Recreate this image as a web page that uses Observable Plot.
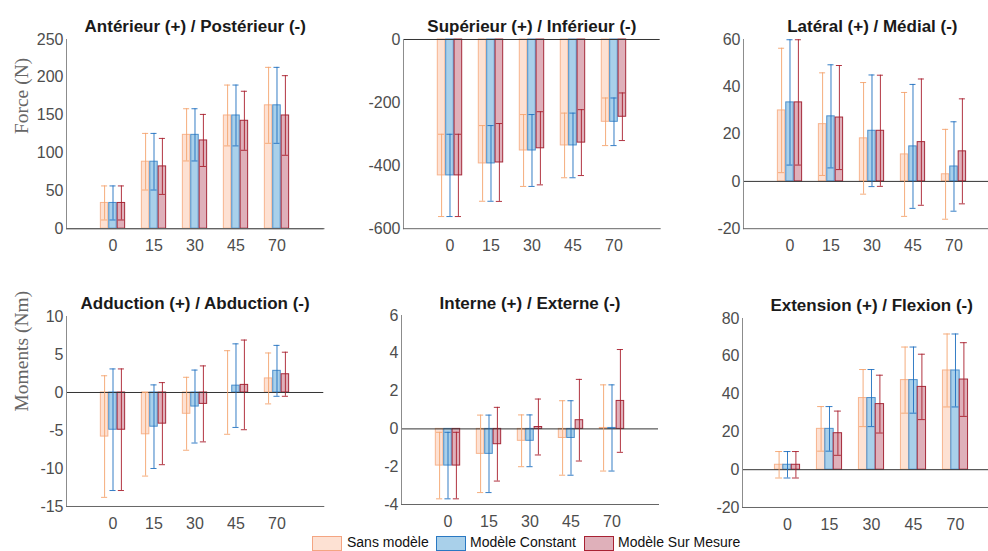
<!DOCTYPE html>
<html><head><meta charset="utf-8">
<script src="https://cdn.jsdelivr.net/npm/d3@7"></script>
<script src="https://cdn.jsdelivr.net/npm/@observablehq/plot@0.6"></script>
<style>
body{margin:0;background:#fff;overflow:hidden}
#c{position:relative;width:988px;height:551px;overflow:hidden;font-family:"Liberation Sans",Arial,sans-serif}
#c svg{position:absolute}
.sw{position:absolute;top:536px;width:30px;height:15px;box-sizing:border-box;border:1px solid}
.lt{position:absolute;top:535px;font-size:14px;line-height:14px;color:#111;white-space:nowrap}
</style>
</head><body><div id="c"></div>
<script>
const angles = ["0", "15", "30", "45", "70"];
const seriesNames = ["Sans modèle", "Modèle Constant", "Modèle Sur Mesure"];
const titles = ["Antérieur (+) / Postérieur (-)", "Supérieur (+) / Inférieur (-)", "Latéral (+) / Médial (-)",
  "Adduction (+) / Abduction (-)", "Interne (+) / Externe (-)", "Extension (+) / Flexion (-)"];
const yLabels = ["Force (N)", "Moments (Nm)"];

// Antérieur / Postérieur (N)
const ap_sans = [34, 88.5, 124, 149.6, 163];
const ap_sans_sd = [22.5, 37.4, 34.5, 40.2, 50.2];
const ap_const = [34, 88.5, 124, 149.6, 163];
const ap_const_sd = [22.5, 37.4, 34.5, 40.2, 50.2];
const ap_sur = [34, 82.3, 116.6, 142.6, 149.6];
const ap_sur_sd = [22.5, 37, 34.4, 39, 52.6];
// Supérieur / Inférieur (N)
const si_sans = [-431, -393, -352, -336, -261];
const si_sans_sd = [130.5, 120, 114, 102.5, 75.5];
const si_const = [-431, -393, -352, -336, -261];
const si_const_sd = [130.5, 120, 114, 102.5, 75.5];
const si_sur = [-431, -390, -345, -327, -245];
const si_sur_sd = [130.5, 123.5, 116, 104.5, 75.5];
// Latéral / Médial (N)
const lm_sans = [30, 24.2, 18.2, 11.4, 3];
const lm_sans_sd = [26.3, 21.7, 23.6, 26.2, 19];
const lm_const = [33.4, 27.5, 21.4, 14.8, 6.3];
const lm_const_sd = [26.5, 21.8, 23.6, 26.2, 18.9];
const lm_sur = [33.4, 27, 21.4, 16.6, 12.7];
const lm_sur_sd = [26.5, 22, 23.5, 26.7, 22.2];
// Adduction / Abduction (Nm)
const aa_sans = [-5.8, -5.5, -2.8, 0, 1.85];
const aa_sans_sd = [8, 5.5, 4.8, 5.5, 3.35];
const aa_const = [-4.9, -4.5, -1.85, 0.9, 2.85];
const aa_const_sd = [8, 5.5, 4.8, 5.5, 3.35];
const aa_sur = [-4.9, -4.1, -1.5, 1.0, 2.4];
const aa_sur_sd = [8, 5.4, 5, 5.9, 2.9];
// Interne / Externe (Nm)
const ie_sans = [-1.94, -1.32, -0.63, -0.48, 0.05];
const ie_sans_sd = [1.76, 2.05, 1.37, 1.97, 2.28];
const ie_const = [-1.94, -1.32, -0.63, -0.48, 0.05];
const ie_const_sd = [1.76, 2.05, 1.37, 1.97, 2.28];
const ie_sur = [-1.94, -0.81, 0.1, 0.46, 1.48];
const ie_sur_sd = [1.76, 1.95, 1.48, 2.16, 2.72];
// Extension / Flexion (Nm)
const ef_sans = [2.6, 21.6, 37.9, 47.4, 52.5];
const ef_sans_sd = [7, 11.8, 15.1, 17.5, 19.3];
const ef_const = [2.6, 21.6, 37.9, 47.4, 52.5];
const ef_const_sd = [7, 11.8, 15.1, 17.5, 19.3];
const ef_sur = [2.6, 19.3, 34.7, 43.8, 47.7];
const ef_sur_sd = [7, 11.7, 15.3, 17.3, 19.5];

const yDomains = [[0, 250], [-600, 0], [-20, 60], [-15, 10], [-4, 6], [-20, 80]];
const yTicks = [[0, 50, 100, 150, 200, 250], [-600, -400, -200, 0], [-20, 0, 20, 40, 60],
  [-15, -10, -5, 0, 5, 10], [-4, -2, 0, 2, 4, 6], [-20, 0, 20, 40, 60, 80]];

const seriesData = [
  [[ap_sans, ap_sans_sd], [ap_const, ap_const_sd], [ap_sur, ap_sur_sd]],
  [[si_sans, si_sans_sd], [si_const, si_const_sd], [si_sur, si_sur_sd]],
  [[lm_sans, lm_sans_sd], [lm_const, lm_const_sd], [lm_sur, lm_sur_sd]],
  [[aa_sans, aa_sans_sd], [aa_const, aa_const_sd], [aa_sur, aa_sur_sd]],
  [[ie_sans, ie_sans_sd], [ie_const, ie_const_sd], [ie_sur, ie_sur_sd]],
  [[ef_sans, ef_sans_sd], [ef_const, ef_const_sd], [ef_sur, ef_sur_sd]]
];

// layout: plot-area frames [x0, x1, y0, y1]
const frames = [
  [65.5, 323, 38.5, 227.7], [403.3, 660, 38.5, 227.7], [743.3, 1001, 38.5, 227.7],
  [65.7, 323, 316, 506], [401, 658, 315, 504], [741.7, 1000, 317.7, 506.7]
];
const styles = [
  {fill: "#fde1d3", edge: "#f7b48e", err: "#f4a46e", sw: "#f4a582"},
  {fill: "#a9d0ea", edge: "#4b8fcc", err: "#1f6fbf", sw: "#2a78c2"},
  {fill: "#dfb0ba", edge: "#a52a3a", err: "#a81e2c", sw: "#a82233"}
];

const c = document.getElementById("c");
const ml = 62, mr = 8, mt = 40, mb = 32;
const hyphen = d => String(d);

frames.forEach((f, p) => {
  const [x0, x1, y0, y1] = f;
  const W = x1 - x0, H = y1 - y0;
  const hs = W / 6.14 / 2;
  const bw = 8.4;
  const marks = [];
  const groups = seriesData[p].map(([m, s], k) => angles.map((a, i) => ({angle: a, k, mean: m[i], sd: s[i]})));
  groups.forEach((d, k) => {
    const off = (k - 1) * bw;
    marks.push(Plot.rectY(d, {x: "angle", y1: 0, y2: "mean", fill: styles[k].fill, stroke: styles[k].edge,
      strokeWidth: 1, insetLeft: hs + off - bw / 2, insetRight: hs - off - bw / 2}));
  });
  marks.push(Plot.ruleY([0], {stroke: "#333", strokeWidth: 1}));
  groups.forEach((d, k) => {
    const off = (k - 1) * bw;
    const st = {stroke: styles[k].err, strokeWidth: 1, strokeOpacity: 0.9};
    marks.push(Plot.ruleX(d, {x: "angle", y1: r => r.mean - r.sd, y2: r => r.mean + r.sd, dx: off, ...st}));
    marks.push(Plot.tickY(d, {x: "angle", y: r => r.mean + r.sd, insetLeft: hs + off - 3.5, insetRight: hs - off - 3.5, ...st}));
    marks.push(Plot.tickY(d, {x: "angle", y: r => r.mean - r.sd, insetLeft: hs + off - 3.5, insetRight: hs - off - 3.5, ...st}));
  });
  marks.push(Plot.frame({anchor: "left", stroke: "#8c8c8c"}));
  marks.push(Plot.frame({anchor: "bottom", stroke: "#666"}));
  marks.push(Plot.axisY({ticks: yTicks[p], tickFormat: hyphen, tickSize: 0, tickPadding: 3, fontSize: 16, fill: "#4d4d4d", label: null}));
  marks.push(Plot.axisX({tickSize: 0, tickPadding: 11, fontSize: 16, fill: "#4d4d4d", label: null}));
  marks.push(Plot.text([titles[p]], {frameAnchor: "top", dy: -7, lineAnchor: "bottom", fontWeight: "bold", fontSize: 17, fill: "#1a1a1a"}));
  if (p % 3 === 0) {
    marks.push(Plot.text([yLabels[p / 3]], {frameAnchor: "left", dx: -(x0 - 21), rotate: -90,
      fontFamily: "Liberation Serif", fontSize: 19.5, fill: "#666"}));
  }
  const svg = Plot.plot({
    width: W + ml + mr, height: H + mt + mb,
    marginLeft: ml, marginRight: mr, marginTop: mt, marginBottom: mb,
    style: {background: "transparent", fontFamily: "Liberation Sans", overflow: "visible", maxWidth: "none"},
    x: {type: "band", domain: angles, paddingInner: 0, paddingOuter: 0.57},
    y: {domain: yDomains[p]},
    marks
  });
  svg.style.left = (x0 - ml) + "px";
  svg.style.top = (y0 - mt) + "px";
  c.appendChild(svg);
});

// legend
const legendBoxes = [312, 436, 584];
const legendTexts = [347, 470, 618];
seriesNames.forEach((name, k) => {
  const b = document.createElement("div");
  b.className = "sw";
  b.style.left = legendBoxes[k] + "px";
  b.style.background = styles[k].fill;
  b.style.borderColor = styles[k].sw;
  c.appendChild(b);
  const t = document.createElement("div");
  t.className = "lt";
  t.style.left = legendTexts[k] + "px";
  t.textContent = name;
  c.appendChild(t);
});
</script>
</body></html>
